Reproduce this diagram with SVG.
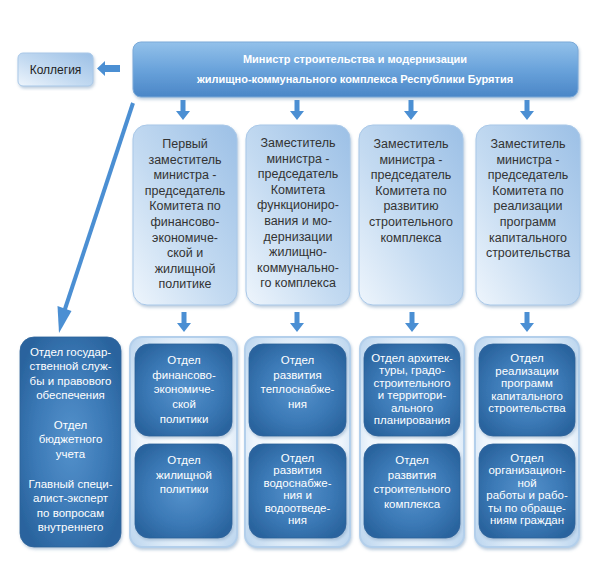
<svg xmlns="http://www.w3.org/2000/svg" width="600" height="571" viewBox="0 0 600 571">
<defs>
<linearGradient id="gTop" x1="0" y1="0" x2="0" y2="1">
<stop offset="0" stop-color="#93c1ea"/>
<stop offset="0.5" stop-color="#6aa3db"/>
<stop offset="1" stop-color="#4a86c7"/>
</linearGradient>
<linearGradient id="gMid" x1="1" y1="0" x2="0" y2="1">
<stop offset="0" stop-color="#9cc0e6"/>
<stop offset="0.55" stop-color="#c3daf1"/>
<stop offset="1" stop-color="#eef5fc"/>
</linearGradient>
<radialGradient id="gCont" cx="0.5" cy="0.5" r="0.7">
<stop offset="0" stop-color="#ffffff"/>
<stop offset="0.6" stop-color="#eef5fc"/>
<stop offset="1" stop-color="#b9d4ee"/>
</radialGradient>
<radialGradient id="gDark" cx="0.5" cy="0.5" r="0.6">
<stop offset="0" stop-color="#5592cc"/>
<stop offset="0.6" stop-color="#3b79b6"/>
<stop offset="1" stop-color="#2a649e"/>
</radialGradient>
<filter id="sh" x="-10%" y="-10%" width="125%" height="125%">
<feDropShadow dx="1" dy="2" stdDeviation="1.5" flood-color="#6a8fb5" flood-opacity="0.45"/>
</filter>
</defs>
<style>
.top{fill:url(#gTop);stroke:#7aa9d8;stroke-width:1;filter:url(#sh)}
.mid{fill:url(#gMid);stroke:#a9c8e8;stroke-width:1;filter:url(#sh)}
.cont{fill:url(#gCont);stroke:#b3cfeb;stroke-width:2;filter:url(#sh)}
.dark{fill:url(#gDark);stroke:#2b6299;stroke-width:0.8;filter:url(#sh)}
.arrow{fill:#4b8fd3}
.line{stroke:#4b8fd3;stroke-width:4;fill:none}
text{font-family:"Liberation Sans",Arial,sans-serif;text-anchor:middle}
.tt{fill:#ffffff;font-size:11px;font-weight:bold}
.mt{fill:#333333;font-size:12.5px}
.wt{fill:#ffffff;font-size:11.5px}
.kt{fill:#222222;font-size:12px}
</style>

<g id="connectors">
<polygon class="arrow" points="120,65 105,65 105,61 97,68.5 105,76 105,72 120,72"/>
<polygon class="arrow" points="180.5,100 185.5,100 185.5,111 190,111 183,120 176,111 180.5,111"/>
<polygon class="arrow" points="294.5,100 299.5,100 299.5,111 304,111 297,120 290,111 294.5,111"/>
<polygon class="arrow" points="408.5,100 413.5,100 413.5,111 418,111 411,120 404,111 408.5,111"/>
<polygon class="arrow" points="524.5,100 529.5,100 529.5,111 534,111 527,120 520,111 524.5,111"/>
<polygon class="arrow" points="181.5,312 186.5,312 186.5,323 191,323 184,332 177,323 181.5,323"/>
<polygon class="arrow" points="294.5,312 299.5,312 299.5,323 304,323 297,332 290,323 294.5,323"/>
<polygon class="arrow" points="409.5,312 414.5,312 414.5,323 419,323 412,332 405,323 409.5,323"/>
<polygon class="arrow" points="524.5,312 529.5,312 529.5,323 534,323 527,332 520,323 524.5,323"/>
<line class="line" x1="133" y1="103" x2="64" y2="312"/>
<polygon class="arrow" points="57.5,306 71.5,311 59,333"/>
</g>

<g id="minister">
<rect class="top" x="133" y="42" width="445" height="55" rx="8"/>
<text class="tt" x="355" y="63">Министр строительства и модернизации</text>
<text class="tt" x="355" y="83">жилищно-коммунального комплекса Республики Бурятия</text>
</g>

<g id="kollegia">
<rect class="mid" x="18" y="53" width="75" height="33" rx="5"/>
<text class="kt" x="55.5" y="74">Коллегия</text>
</g>

<g id="dep1">
<rect class="mid" x="133" y="125" width="104" height="180" rx="14"/>
<text class="mt" x="185" y="148">Первый</text>
<text class="mt" x="185" y="163.6">заместитель</text>
<text class="mt" x="185" y="179.2">министра -</text>
<text class="mt" x="185" y="194.8">председатель</text>
<text class="mt" x="185" y="210.4">Комитета по</text>
<text class="mt" x="185" y="226">финансово-</text>
<text class="mt" x="185" y="241.6">экономиче-</text>
<text class="mt" x="185" y="257.2">ской и</text>
<text class="mt" x="185" y="272.8">жилищной</text>
<text class="mt" x="185" y="288.4">политике</text>
</g>

<g id="dep2">
<rect class="mid" x="246" y="125" width="104" height="180" rx="14"/>
<text class="mt" x="298" y="147">Заместитель</text>
<text class="mt" x="298" y="162.6">министра -</text>
<text class="mt" x="298" y="178.2">председатель</text>
<text class="mt" x="298" y="193.8">Комитета</text>
<text class="mt" x="298" y="209.4">функциониро-</text>
<text class="mt" x="298" y="225">вания и мо-</text>
<text class="mt" x="298" y="240.6">дернизации</text>
<text class="mt" x="298" y="256.2">жилищно-</text>
<text class="mt" x="298" y="271.8">коммунально-</text>
<text class="mt" x="298" y="287.4">го комплекса</text>
</g>

<g id="dep3">
<rect class="mid" x="359" y="125" width="104" height="180" rx="14"/>
<text class="mt" x="411" y="148">Заместитель</text>
<text class="mt" x="411" y="163.6">министра -</text>
<text class="mt" x="411" y="179.2">председатель</text>
<text class="mt" x="411" y="194.8">Комитета по</text>
<text class="mt" x="411" y="210.4">развитию</text>
<text class="mt" x="411" y="226">строительного</text>
<text class="mt" x="411" y="241.6">комплекса</text>
</g>

<g id="dep4">
<rect class="mid" x="476" y="125" width="104" height="180" rx="14"/>
<text class="mt" x="528" y="148">Заместитель</text>
<text class="mt" x="528" y="163.6">министра -</text>
<text class="mt" x="528" y="179.2">председатель</text>
<text class="mt" x="528" y="194.8">Комитета по</text>
<text class="mt" x="528" y="210.4">реализации</text>
<text class="mt" x="528" y="226">программ</text>
<text class="mt" x="528" y="241.6">капитального</text>
<text class="mt" x="528" y="257.2">строительства</text>
</g>

<g id="left-units">
<rect class="dark" x="20" y="337" width="101" height="210" rx="14"/>
<text class="wt" x="70.5" y="356">Отдел государ-</text>
<text class="wt" x="70.5" y="370.3">ственной служ-</text>
<text class="wt" x="70.5" y="384.6">бы и правового</text>
<text class="wt" x="70.5" y="398.9">обеспечения</text>
<text class="wt" x="70.5" y="429">Отдел</text>
<text class="wt" x="70.5" y="443.3">бюджетного</text>
<text class="wt" x="70.5" y="457.6">учета</text>
<text class="wt" x="70.5" y="488">Главный специ-</text>
<text class="wt" x="70.5" y="502.3">алист-эксперт</text>
<text class="wt" x="70.5" y="516.6">по вопросам</text>
<text class="wt" x="70.5" y="530.9">внутреннего</text>
</g>

<g id="units1">
<rect class="cont" x="130" y="337" width="107" height="210" rx="12"/>
<rect class="dark" x="135" y="344" width="97" height="92" rx="14"/>
<rect class="dark" x="135" y="444" width="97" height="94" rx="14"/>
<text class="wt" x="184" y="364">Отдел</text>
<text class="wt" x="184" y="378.7">финансово-</text>
<text class="wt" x="184" y="393.4">экономиче-</text>
<text class="wt" x="184" y="408.1">ской</text>
<text class="wt" x="184" y="422.8">политики</text>
<text class="wt" x="184" y="464">Отдел</text>
<text class="wt" x="184" y="478.7">жилищной</text>
<text class="wt" x="184" y="493.4">политики</text>
</g>

<g id="units2">
<rect class="cont" x="245" y="337" width="105" height="210" rx="12"/>
<rect class="dark" x="249" y="344" width="97" height="92" rx="14"/>
<rect class="dark" x="249" y="444" width="97" height="94" rx="14"/>
<text class="wt" x="297.5" y="364">Отдел</text>
<text class="wt" x="297.5" y="378.7">развития</text>
<text class="wt" x="297.5" y="393.4">теплоснабже-</text>
<text class="wt" x="297.5" y="408.1">ния</text>
<text class="wt" x="297.5" y="462">Отдел</text>
<text class="wt" x="297.5" y="474.4">развития</text>
<text class="wt" x="297.5" y="486.8">водоснабже-</text>
<text class="wt" x="297.5" y="499.2">ния и</text>
<text class="wt" x="297.5" y="511.6">водоотведе-</text>
<text class="wt" x="297.5" y="524">ния</text>
</g>

<g id="units3">
<rect class="cont" x="360" y="337" width="104" height="210" rx="12"/>
<rect class="dark" x="364" y="344" width="96" height="92" rx="14"/>
<rect class="dark" x="364" y="444" width="96" height="94" rx="14"/>
<text class="wt" x="412" y="362">Отдел архитек-</text>
<text class="wt" x="412" y="374.4">туры, градо-</text>
<text class="wt" x="412" y="386.8">строительного</text>
<text class="wt" x="412" y="399.2">и территори-</text>
<text class="wt" x="412" y="411.6">ального</text>
<text class="wt" x="412" y="424">планирования</text>
<text class="wt" x="412" y="464">Отдел</text>
<text class="wt" x="412" y="478.7">развития</text>
<text class="wt" x="412" y="493.4">строительного</text>
<text class="wt" x="412" y="508.1">комплекса</text>
</g>

<g id="units4">
<rect class="cont" x="475" y="337" width="104" height="210" rx="12"/>
<rect class="dark" x="479" y="344" width="96" height="92" rx="14"/>
<rect class="dark" x="479" y="444" width="96" height="94" rx="14"/>
<text class="wt" x="527" y="362">Отдел</text>
<text class="wt" x="527" y="374.5">реализации</text>
<text class="wt" x="527" y="387">программ</text>
<text class="wt" x="527" y="399.5">капитального</text>
<text class="wt" x="527" y="412">строительства</text>
<text class="wt" x="527" y="462">Отдел</text>
<text class="wt" x="527" y="474.4">организацион-</text>
<text class="wt" x="527" y="486.8">ной</text>
<text class="wt" x="527" y="499.2">работы и рабо-</text>
<text class="wt" x="527" y="511.6">ты по обраще-</text>
<text class="wt" x="527" y="524">ниям граждан</text>
</g>
</svg>
